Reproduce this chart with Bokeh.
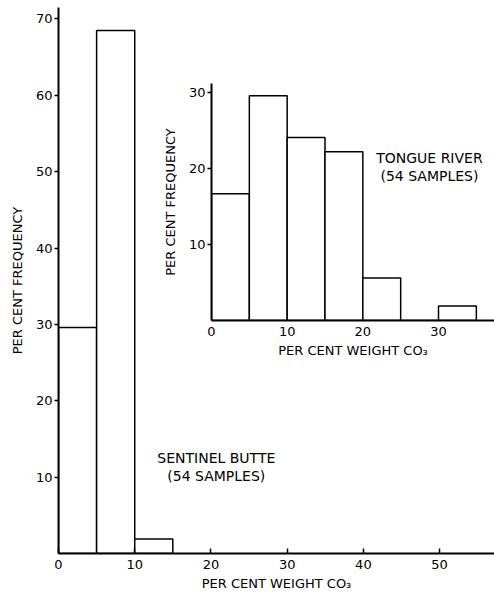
from bokeh.plotting import figure
from bokeh.layouts import column
from bokeh.models import Label, FixedTicker, Range1d
from bokeh.embed import file_html
from bokeh.resources import INLINE

# Sentinel Butte (main histogram)
sb_left = [0, 5, 10]
sb_right = [5, 10, 15]
sb_freq = [29.6, 68.5, 1.9]
sb_xticks = [0, 10, 20, 30, 40, 50]
sb_yticks = [10, 20, 30, 40, 50, 60, 70]

# Tongue River (inset histogram)
tr_left = [0, 5, 10, 15, 20, 25, 30]
tr_right = [5, 10, 15, 20, 25, 30, 35]
tr_freq = [16.7, 29.6, 24.1, 22.2, 5.6, 0.0, 1.9]
tr_xticks = [0, 10, 20, 30]
tr_yticks = [10, 20, 30]

FONT = "DejaVu Sans"
XLABEL = "PER CENT WEIGHT CO\u2083"
YLABEL = "PER CENT FREQUENCY"


def style(p, xticks, yticks):
    p.outline_line_color = None
    p.xgrid.grid_line_color = None
    p.ygrid.grid_line_color = None
    p.background_fill_color = None
    p.border_fill_color = None
    p.xaxis.ticker = FixedTicker(ticks=xticks)
    p.yaxis.ticker = FixedTicker(ticks=yticks)
    for ax in (p.xaxis, p.yaxis):
        ax.axis_line_width = 2
        ax.axis_line_color = "black"
        ax.major_tick_line_color = "black"
        ax.major_tick_line_width = 1.5
        ax.minor_tick_line_color = None
        ax.major_label_text_font = FONT
        ax.major_label_text_font_size = "13px"
        ax.major_label_text_color = "black"
        ax.axis_label_text_font = FONT
        ax.axis_label_text_font_size = "13px"
        ax.axis_label_text_font_style = "normal"
        ax.axis_label_text_color = "black"
    p.xaxis.major_tick_in = 5
    p.xaxis.major_tick_out = 0
    p.yaxis.major_tick_in = 0
    p.yaxis.major_tick_out = 4
    p.xaxis.major_label_standoff = 6
    p.yaxis.major_label_standoff = 2
    p.xaxis.axis_label_standoff = 4
    p.yaxis.axis_label_standoff = 8


main = figure(width=494, height=599, output_backend="svg", toolbar_location=None,
              x_range=Range1d(0, 57.2), y_range=Range1d(0, 71.5),
              min_border_left=58, min_border_right=0, min_border_top=7,
              min_border_bottom=46)
style(main, sb_xticks, sb_yticks)
main.xaxis.axis_label = XLABEL
main.yaxis.axis_label = YLABEL
main.quad(left=sb_left, right=sb_right, bottom=0, top=sb_freq,
          fill_color="white", line_color="black", line_width=1.5)
main.add_layout(Label(x=20.7, y=12.5, text="SENTINEL BUTTE", text_align="center",
                      text_baseline="middle",
                      text_font=FONT, text_font_size="14px", text_color="black"))
main.add_layout(Label(x=20.7, y=10.2, text="(54 SAMPLES)", text_align="center",
                      text_baseline="middle",
                      text_font=FONT, text_font_size="14px", text_color="black"))

inset = figure(width=341, height=277, output_backend="svg", toolbar_location=None,
               x_range=Range1d(0, 37.4), y_range=Range1d(0, 31.2),
               min_border_left=51, min_border_right=0, min_border_top=0,
               min_border_bottom=38,
               styles={"position": "absolute", "left": "153px", "top": "83px"})
style(inset, tr_xticks, tr_yticks)
inset.xaxis.major_tick_in = 0
inset.xaxis.axis_label = XLABEL
inset.yaxis.axis_label = YLABEL
inset.quad(left=tr_left, right=tr_right, bottom=0, top=tr_freq,
           fill_color="white", line_color="black", line_width=1.5)
inset.add_layout(Label(x=28.8, y=21.4, text="TONGUE RIVER", text_align="center",
                       text_baseline="middle",
                       text_font=FONT, text_font_size="14px", text_color="black"))
inset.add_layout(Label(x=28.8, y=19.0, text="(54 SAMPLES)", text_align="center",
                       text_baseline="middle",
                       text_font=FONT, text_font_size="14px", text_color="black"))

layout = column(main, inset, styles={"position": "relative"})

open("out.html", "w").write(file_html(layout, INLINE))
